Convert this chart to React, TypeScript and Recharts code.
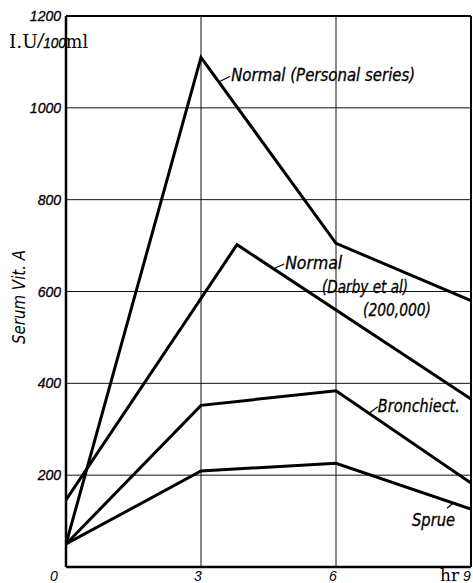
import React from 'react';
import { LineChart, Line, XAxis, YAxis, CartesianGrid, ReferenceLine, ReferenceDot } from 'recharts';

// ---- data ----
const hours = [0, 3, 6, 9];
const personalSeries = [50, 1110, 705, 580];
const bronchiectasis = [50, 352, 384, 183];
const sprue = [50, 209, 226, 126];
const darbyHours = [0, 3.8, 9];
const darbySeries = [146, 702, 366];
const yTicks = [200, 400, 600, 800, 1000, 1200];
const xTicks = [0, 3, 6, 9];

const personalData = hours.map((t, i) => ({ t, v: personalSeries[i] }));
const bronchData = hours.map((t, i) => ({ t, v: bronchiectasis[i] }));
const sprueData = hours.map((t, i) => ({ t, v: sprue[i] }));
const darbyData = darbyHours.map((t, i) => ({ t, v: darbySeries[i] }));

const SANS = '"Liberation Sans Narrow", "DejaVu Sans Condensed", "Liberation Sans", Arial, sans-serif';
const TICKFONT = '"Liberation Sans", Arial, sans-serif';
const SERIF = '"DejaVu Serif", serif';

type Ann = { text: string; t: number; v: number; w: number; leader?: [number, number, number, number] };
const annotations: Ann[] = [
  { text: 'Normal (Personal series)', t: 3.67, v: 1071, w: 184, leader: [-11, 6, -1, 1] },
  { text: 'Normal', t: 4.87, v: 662, w: 57, leader: [-10, 5, -1, 1] },
  { text: '(Darby et al)', t: 5.69, v: 610, w: 86 },
  { text: '(200,000)', t: 6.6, v: 560, w: 68 },
  { text: 'Bronchiect.', t: 6.93, v: 351, w: 82, leader: [-8, 7, 0, 1] },
  { text: 'Sprue', t: 7.69, v: 102, w: 43, leader: [35, -12, 41, -17] },
];

const makeLabel = (a: Ann) => (props: any) => {
  const vb = props.viewBox || {};
  const x = (vb.x ?? 0) + (vb.width ?? 0) / 2;
  const y = (vb.y ?? 0) + (vb.height ?? 0) / 2;
  return (
    <g>
      {a.leader && (
        <line x1={x + a.leader[0]} y1={y + a.leader[1]} x2={x + a.leader[2]} y2={y + a.leader[3]} stroke="#000" strokeWidth={1.2} />
      )}
      <text
        x={x}
        y={y}
        dy={6}
        fontFamily={SANS}
        fontStyle="italic"
        fontSize={18}
        fill="#000"
        stroke="#000"
        strokeWidth={0.3}
        textLength={a.w}
        lengthAdjust="spacingAndGlyphs"
      >
        {a.text}
      </text>
    </g>
  );
};

const XTick = (props: any) => {
  const { x, y, payload } = props;
  const v = payload.value;
  const base = y + 14;
  if (v === 9) {
    return (
      <text x={x - 29} y={base} fill="#000">
        <tspan fontFamily={SERIF} fontSize={17}>hr</tspan>
        <tspan dx={4} fontFamily={TICKFONT} fontStyle="italic" fontSize={14}>9</tspan>
      </text>
    );
  }
  const dx = v === 0 ? -12 : -3;
  return (
    <text x={x + dx} y={base} fontFamily={TICKFONT} fontStyle="italic" fontSize={14} fill="#000" textAnchor="middle">
      {v}
    </text>
  );
};

const YTick = (props: any) => {
  const { x, y, payload } = props;
  return (
    <text x={x} y={y} dy={5} fontFamily={TICKFONT} fontStyle="italic" fontSize={14} fill="#000" stroke="#000" strokeWidth={0.3} textAnchor="end">
      {payload.value}
    </text>
  );
};

export default function App() {
  return (
    <div style={{ position: 'relative', width: 473, height: 583, background: '#fff' }}>
      <style>{'body{margin:0;background:#fff}'}</style>
      <LineChart width={473} height={583} margin={{ top: 16, right: 2, bottom: 0, left: 0 }}>
        <CartesianGrid stroke="#111" strokeWidth={1} horizontal vertical />
        <XAxis
          type="number"
          dataKey="t"
          domain={[0, 9]}
          ticks={xTicks}
          allowDataOverflow
          height={16}
          tickSize={0}
          tickMargin={0}
          tick={<XTick />}
          axisLine={{ stroke: '#000', strokeWidth: 2.5 }}
          tickLine={false}
        />
        <YAxis
          type="number"
          dataKey="v"
          domain={[0, 1200]}
          ticks={yTicks}
          width={66}
          tickSize={0}
          tickMargin={5}
          tick={<YTick />}
          axisLine={{ stroke: '#000', strokeWidth: 2.5 }}
          tickLine={false}
          label={{
            content: () => (
              <text
                x={20}
                y={297}
                transform="rotate(-90 20 297)"
                textAnchor="middle"
                dominantBaseline="middle"
                fontFamily={SANS}
                fontStyle="italic"
                fontSize={18}
                textLength={94}
                lengthAdjust="spacingAndGlyphs"
                fill="#000"
              >
                Serum Vit. A
              </text>
            ),
          }}
        />
        <ReferenceLine y={1200} stroke="#000" strokeWidth={2} />
        <ReferenceLine x={9} stroke="#000" strokeWidth={2} />
        <Line data={personalData} dataKey="v" stroke="#000" strokeWidth={3} dot={false} isAnimationActive={false} strokeLinejoin="miter" />
        <Line data={darbyData} dataKey="v" stroke="#000" strokeWidth={3} dot={false} isAnimationActive={false} strokeLinejoin="miter" />
        <Line data={bronchData} dataKey="v" stroke="#000" strokeWidth={3} dot={false} isAnimationActive={false} strokeLinejoin="miter" />
        <Line data={sprueData} dataKey="v" stroke="#000" strokeWidth={3} dot={false} isAnimationActive={false} strokeLinejoin="miter" />
        {annotations.map((a) => (
          <ReferenceDot key={a.text} x={a.t} y={a.v} r={0} fill="none" stroke="none" label={makeLabel(a)} />
        ))}
      </LineChart>
      <svg width={100} height={60} style={{ position: 'absolute', left: 0, top: 0 }}>
        <text x={9} y={48} fill="#000" textLength={79} lengthAdjust="spacingAndGlyphs">
          <tspan fontFamily={SERIF} fontSize={19}>I.U</tspan>
          <tspan fontFamily={TICKFONT} fontStyle="italic" fontSize={20}>/</tspan>
          <tspan fontFamily={TICKFONT} fontStyle="italic" fontSize={14} stroke="#000" strokeWidth={0.3}>100</tspan>
          <tspan fontFamily={SERIF} fontSize={18}>ml</tspan>
        </text>
      </svg>
    </div>
  );
}
